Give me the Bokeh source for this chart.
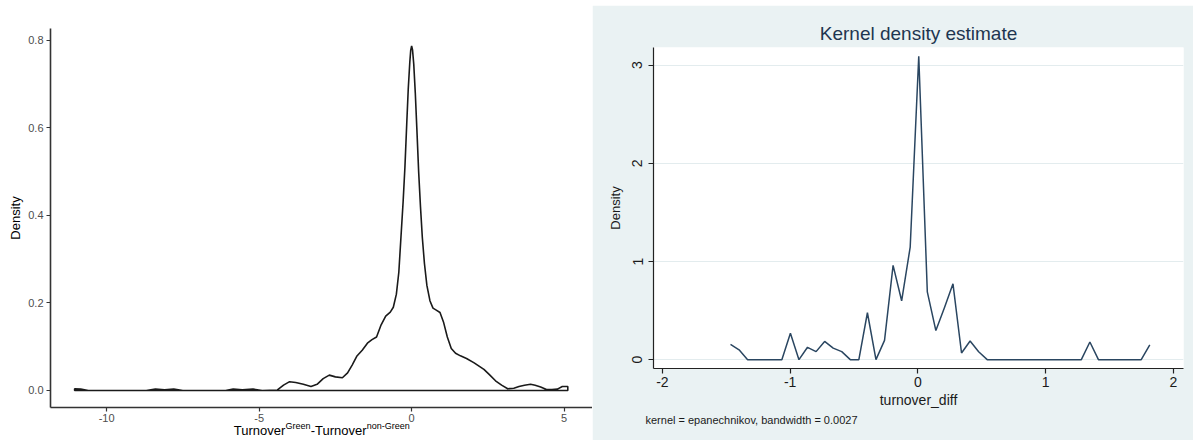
from bokeh.plotting import figure
from bokeh.layouts import row, column
from bokeh.models import FixedTicker, PrintfTickFormatter, Title, LinearAxis, Spacer
from bokeh.embed import file_html
from bokeh.resources import INLINE

# ---------------- data: left panel (smooth density) ----------------
left_x = [-11.05, -10.85, -10.6, -8.7, -8.4, -8.1, -7.8, -7.5, -6.1, -5.85, -5.55, -5.2, -4.9,
          -4.4, -4.2, -4.0, -3.8, -3.55, -3.3, -3.1, -2.9, -2.7, -2.5, -2.27, -2.1, -1.95, -1.8,
          -1.62, -1.45, -1.3, -1.15, -1.0, -0.85, -0.7, -0.6, -0.5, -0.42, -0.35, -0.28, -0.22,
          -0.16, -0.11, -0.06, -0.03, 0.0, 0.03, 0.07, 0.12, 0.17, 0.23, 0.29, 0.35, 0.42, 0.5,
          0.6, 0.7, 0.82, 0.93, 1.05, 1.17, 1.3, 1.44, 1.6, 1.8, 2.05, 2.37, 2.55, 2.75, 2.95,
          3.15, 3.35, 3.52, 3.7, 3.9, 4.05, 4.23, 4.42, 4.6, 4.78, 4.94, 5.12]
left_y = [0.004, 0.003, 0.0, 0.0, 0.003, 0.0015, 0.003, 0.0, 0.0, 0.003, 0.0015, 0.003, 0.0,
          0.001, 0.012, 0.020, 0.018, 0.014, 0.009, 0.014, 0.027, 0.035, 0.031, 0.029, 0.040,
          0.058, 0.078, 0.092, 0.108, 0.116, 0.122, 0.150, 0.170, 0.179, 0.19, 0.22, 0.27, 0.35,
          0.43, 0.51, 0.61, 0.69, 0.75, 0.777, 0.787, 0.778, 0.745, 0.68, 0.60, 0.50, 0.42, 0.35,
          0.29, 0.24, 0.205, 0.188, 0.183, 0.178, 0.155, 0.122, 0.096, 0.085, 0.079, 0.073,
          0.063, 0.048, 0.036, 0.022, 0.012, 0.004, 0.005, 0.009, 0.012, 0.014, 0.012, 0.008,
          0.002, 0.002, 0.003, 0.009, 0.009]
left_xticks = [-10, -5, 0, 5]
left_yticks = [0.0, 0.2, 0.4, 0.6, 0.8]
left_xtitle_main = ["Turnover", "-Turnover"]
left_xtitle_sup = ["Green", "non-Green"]

# ---------------- data: right panel (Stata kdensity, 50 points) ----------------
right_x = [-1.467, -1.400, -1.333, -1.266, -1.199, -1.132, -1.065, -0.998, -0.931, -0.864,
           -0.797, -0.730, -0.663, -0.596, -0.529, -0.462, -0.395, -0.328, -0.261, -0.194,
           -0.127, -0.060, 0.007, 0.074, 0.141, 0.208, 0.275, 0.342, 0.409, 0.476,
           0.543, 0.610, 0.677, 0.744, 0.811, 0.878, 0.945, 1.012, 1.079, 1.146,
           1.213, 1.280, 1.347, 1.414, 1.481, 1.548, 1.615, 1.682, 1.749, 1.816]
right_y = [0.155, 0.10, 0.0, 0.0, 0.0, 0.0, 0.0, 0.27, 0.0, 0.126,
           0.082, 0.186, 0.118, 0.082, 0.0, 0.0, 0.478, 0.0, 0.197, 0.96,
           0.60, 1.147, 3.09, 0.69, 0.296, 0.53, 0.773, 0.068, 0.19, 0.08,
           0.0, 0.0, 0.0, 0.0, 0.0, 0.0, 0.0, 0.0, 0.0, 0.0,
           0.0, 0.0, 0.18, 0.0, 0.0, 0.0, 0.0, 0.0, 0.0, 0.15]
right_xticks = [-2, -1, 0, 1, 2]
right_yticks = [0, 1, 2, 3]

FONT = "Liberation Sans"

# =============================== LEFT PANEL ===============================
LX0, LX1 = -11.84, 5.93
LY0, LY1 = -0.039, 0.827
left = figure(width=592, height=440, x_range=(LX0, LX1), y_range=(LY0, LY1),
              output_backend="svg", toolbar_location=None,
              min_border_left=50, min_border_right=0, min_border_top=28, min_border_bottom=33)
left.outline_line_color = None
left.background_fill_color = "white"
left.border_fill_color = "white"
left.xgrid.visible = False
left.ygrid.visible = False

px_x = [*left_x, left_x[-1], left_x[0]]
px_y = [*left_y, 0.0, 0.0]
left.patch(px_x, px_y, fill_color=None, line_color="#1a1a1a", line_width=1.6)

for ax in (left.xaxis[0], left.yaxis[0]):
    ax.axis_line_color = "#333333"
    ax.axis_line_width = 1.6
    ax.major_tick_line_color = "#333333"
    ax.major_tick_line_width = 1.2
    ax.major_tick_in = 0
    ax.major_tick_out = 4
    ax.minor_tick_line_color = None
    ax.major_label_text_font = FONT
    ax.major_label_text_font_size = "11px"
    ax.major_label_text_color = "#4d4d4d"
    ax.major_label_standoff = 3

left.xaxis.major_label_standoff = 2
left.xaxis.ticker = FixedTicker(ticks=left_xticks)
left.xaxis.formatter = PrintfTickFormatter(format="%d")
left.yaxis.ticker = FixedTicker(ticks=left_yticks)
left.yaxis.formatter = PrintfTickFormatter(format="%.1f")
left.yaxis.axis_label = "Density"
left.yaxis.axis_label_text_font = FONT
left.yaxis.axis_label_text_font_size = "13px"
left.yaxis.axis_label_text_font_style = "normal"
left.yaxis.axis_label_text_color = "black"
left.yaxis.axis_label_standoff = 2

# x-axis title with superscripts: two label-only axes stacked below the main axis.
# Horizontal centres are given in page pixels and converted to data units.
L_FRAME_LEFT, L_FRAME_W = 50.0, 542.0
def lxd(px):
    return round(LX0 + (px - L_FRAME_LEFT) * (LX1 - LX0) / L_FRAME_W, 4)

main_pos = [lxd(259.0), lxd(338.2)]
sup_pos = [lxd(297.5), lxd(387.8)]

def label_axis(positions, texts, size, standoff):
    ax = LinearAxis(ticker=FixedTicker(ticks=positions),
                    major_label_overrides={p: t for p, t in zip(positions, texts)})
    ax.axis_line_color = None
    ax.major_tick_line_color = None
    ax.minor_tick_line_color = None
    ax.major_tick_in = 0
    ax.major_tick_out = 0
    ax.minor_tick_out = 0
    ax.major_label_standoff = standoff
    ax.major_label_text_font = FONT
    ax.major_label_text_font_size = size
    ax.major_label_text_color = "black"
    return ax

left.add_layout(label_axis(sup_pos, left_xtitle_sup, "9px", -4), "below")
left.add_layout(label_axis(main_pos, left_xtitle_main, "13px", -11), "below")

# =============================== RIGHT PANEL ===============================
RX0, RX1 = -2.07, 2.08
RY0, RY1 = -0.09, 3.18
BG = "#eaf2f3"
right = figure(width=601, height=435, x_range=(RX0, RX1), y_range=(RY0, RY1),
               output_backend="svg", toolbar_location=None,
               min_border_left=61, min_border_right=10, min_border_top=42, min_border_bottom=72)
right.outline_line_color = None
right.background_fill_color = "white"
right.border_fill_color = BG
right.xgrid.visible = False
right.ygrid.grid_line_color = "#e3ecee"
right.ygrid.grid_line_width = 1

right.line(right_x, right_y, line_color="#2a4661", line_width=1.5)

for ax in (right.xaxis[0], right.yaxis[0]):
    ax.axis_line_color = "#222222"
    ax.axis_line_width = 1.2
    ax.major_tick_line_color = "#222222"
    ax.major_tick_line_width = 1.2
    ax.major_tick_in = 0
    ax.major_tick_out = 5
    ax.minor_tick_line_color = None
    ax.major_label_text_font = FONT
    ax.major_label_text_font_size = "14px"
    ax.major_label_text_color = "#1a1a1a"
    ax.axis_label_text_font = FONT
    ax.axis_label_text_font_style = "normal"
    ax.axis_label_text_color = "#1a1a1a"

right.xaxis.ticker = FixedTicker(ticks=right_xticks)
right.xaxis.formatter = PrintfTickFormatter(format="%d")
right.yaxis.ticker = FixedTicker(ticks=right_yticks)
right.ygrid.ticker = FixedTicker(ticks=right_yticks)
right.yaxis.major_label_orientation = "vertical"
right.xaxis.major_label_standoff = 3
right.yaxis.major_label_standoff = 6
right.xaxis.axis_label = "turnover_diff"
right.xaxis.axis_label_text_font_size = "14px"
right.xaxis.axis_label_standoff = 2
right.yaxis.axis_label = "Density"
right.yaxis.axis_label_text_font_size = "13px"
right.yaxis.axis_label_standoff = 7

right.add_layout(Title(text="kernel = epanechnikov, bandwidth = 0.0027", align="left",
                       text_font=FONT, text_font_size="11px", text_color="#1a1a1a",
                       text_font_style="normal", offset=-8, standoff=2), "below")
right.add_layout(Title(text="Kernel density estimate", align="center", text_font=FONT,
                       text_font_size="19px", text_color="#1e3550", text_font_style="normal",
                       standoff=8), "above")

layout = row(column(left), column(Spacer(width=601, height=5), right, spacing=0), spacing=0)
open("out.html", "w").write(file_html(layout, INLINE))
